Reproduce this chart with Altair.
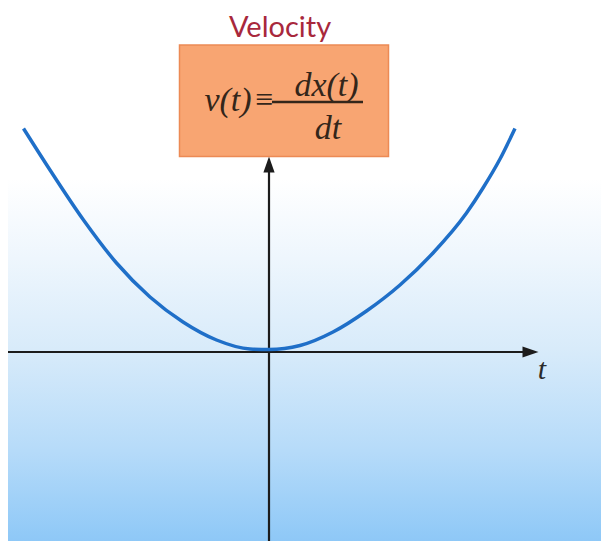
import altair as alt
import pandas as pd

# Curve (t units, v units; 1 unit ~ 50 px)
curve_t = [-4.91, -4.38, -3.71, -3.05, -2.38, -1.72, -1.05, -0.38, 0.0,
           0.62, 1.28, 1.95, 2.62, 3.28, 3.95, 4.28, 4.62, 4.92]
curve_v = [4.47, 3.64, 2.64, 1.78, 1.10, 0.60, 0.24, 0.06, 0.05,
           0.13, 0.40, 0.82, 1.34, 1.98, 2.78, 3.28, 3.86, 4.47]

# Frame / annotation values
x_domain = [-5.22, 6.64]
y_domain = [-3.78, 6.88]
h_axis_t = [-5.22, 5.10]
h_arrow_t = [5.23]
v_axis_v = [-3.78, 3.70]
v_arrow_v = [3.75]
box_t = [-1.79, 2.39]
box_v = [3.91, 6.14]
frac_t = [0.06, 1.88]
frac_v = [5.0]

title_text = ["Velocity"]
formula_parts = ["v(t)", "≡", "dx(t)", "dt"]
formula_t = [-0.82, -0.10, 1.15, 1.18]
formula_v = [4.82, 4.84, 5.12, 4.26]
axis_label = ["t"]

W, H = 593, 533

xs = alt.Scale(domain=x_domain, nice=False, zero=False)
ys = alt.Scale(domain=y_domain, nice=False, zero=False)

def X(field="t"):
    return alt.X(f"{field}:Q", scale=xs, axis=None)

def Y(field="v"):
    return alt.Y(f"{field}:Q", scale=ys, axis=None)

bg = alt.Chart(pd.DataFrame({"a": [0]})).mark_rect(
    color=alt.Gradient(
        gradient="linear",
        stops=[
            alt.GradientStop(color="#ffffff", offset=0.0),
            alt.GradientStop(color="#ffffff", offset=0.32),
            alt.GradientStop(color="#eef6fd", offset=0.47),
            alt.GradientStop(color="#d8ebfa", offset=0.64),
            alt.GradientStop(color="#b6dbf9", offset=0.83),
            alt.GradientStop(color="#8ec8f7", offset=1.0),
        ],
        x1=0, x2=0, y1=0, y2=1,
    )
).encode(x=alt.value(0), x2=alt.value(W), y=alt.value(0), y2=alt.value(H))

axis_color = "#1c1c1c"

h_axis = alt.Chart(pd.DataFrame({"t": [h_axis_t[0]], "t2": [h_axis_t[1]], "v": [0.0]})).mark_rule(
    color=axis_color, strokeWidth=2.2
).encode(x=X(), x2="t2:Q", y=Y())

v_axis = alt.Chart(pd.DataFrame({"t": [0.0], "v": [v_axis_v[0]], "v2": [v_axis_v[1]]})).mark_rule(
    color=axis_color, strokeWidth=2.2
).encode(x=X(), y=Y(), y2="v2:Q")

h_arrow = alt.Chart(pd.DataFrame({"t": h_arrow_t, "v": [0.0]})).mark_point(
    shape="M-1,-0.7L1,0L-1,0.7Z", filled=True, size=256, color=axis_color, opacity=1
).encode(x=X(), y=Y())

v_arrow = alt.Chart(pd.DataFrame({"t": [0.0], "v": v_arrow_v})).mark_point(
    shape="M-0.7,1L0,-1L0.7,1Z", filled=True, size=256, color=axis_color, opacity=1
).encode(x=X(), y=Y())

curve = alt.Chart(pd.DataFrame({"t": curve_t, "v": curve_v})).mark_line(
    color="#1f6fc8", strokeWidth=3.5, interpolate="monotone"
).encode(x=X(), y=Y())

box = alt.Chart(pd.DataFrame({"t": [box_t[0]], "t2": [box_t[1]], "v": [box_v[0]], "v2": [box_v[1]]})).mark_rect(
    fill="#f8a572", stroke="#ec8a55", strokeWidth=1.5
).encode(x=X(), x2="t2:Q", y=Y(), y2="v2:Q")

frac = alt.Chart(pd.DataFrame({"t": [frac_t[0]], "t2": [frac_t[1]], "v": frac_v})).mark_rule(
    color="#33261a", strokeWidth=2.5
).encode(x=X(), x2="t2:Q", y=Y())

title = alt.Chart(pd.DataFrame({"t": [0.22], "v": [6.30], "label": title_text})).mark_text(
    font="Lato", fontSize=29, color="#a8283c", align="center", baseline="alphabetic"
).encode(x=X(), y=Y(), text="label:N")

fdf = pd.DataFrame({"t": formula_t, "v": formula_v, "label": formula_parts})
formula_it = alt.Chart(fdf[fdf.label != "≡"]).mark_text(
    font="Liberation Serif", fontStyle="italic", fontSize=34, color="#33261a",
    align="center", baseline="alphabetic"
).encode(x=X(), y=Y(), text="label:N")
formula_eq = alt.Chart(fdf[fdf.label == "≡"]).mark_text(
    font="Liberation Serif", fontSize=32, color="#33261a",
    align="center", baseline="alphabetic"
).encode(x=X(), y=Y(), text="label:N")

tlabel = alt.Chart(pd.DataFrame({"t": [5.46], "v": [-0.54], "label": axis_label})).mark_text(
    font="Liberation Serif", fontStyle="italic", fontSize=30, color="#2a2a2a",
    align="center", baseline="alphabetic"
).encode(x=X(), y=Y(), text="label:N")

chart = alt.layer(
    bg, h_axis, v_axis, h_arrow, v_arrow, curve, box, frac, title, formula_it, formula_eq, tlabel
).properties(
    width=W, height=H, padding=0,
    autosize=alt.AutoSizeParams(type="none"),
).configure_view(stroke=None).configure(background="#ffffff")

chart.save("out.html", embed_options={"renderer": "svg", "actions": False})
